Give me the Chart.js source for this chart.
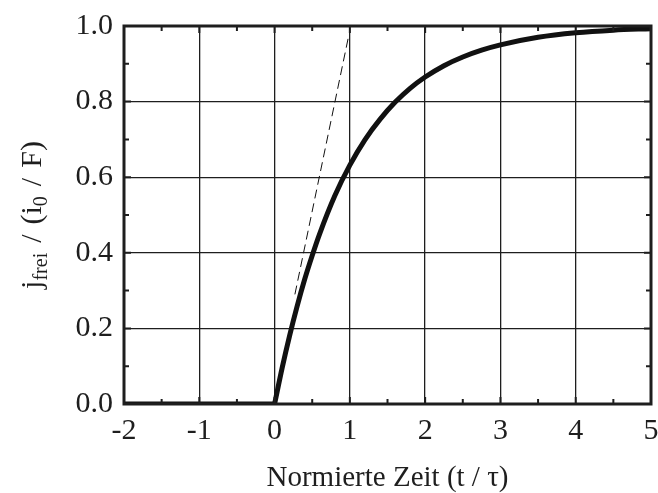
<!DOCTYPE html>
<html>
<head>
<meta charset="utf-8">
<script src="https://cdn.jsdelivr.net/npm/chart.js@4.4.1/dist/chart.umd.min.js"></script>
<style>
  html, body { margin: 0; padding: 0; background: #fff; }
  #c { display: block; }
</style>
</head>
<body>
<canvas id="c" width="658" height="493"></canvas>
<script>
// values
const flatT = [-2, -1, 0];
const flatJ = [0, 0, 0];
const riseT = [0, 0.1, 0.2, 0.3, 0.4, 0.5, 0.6, 0.8, 1.0, 1.2, 1.4, 1.6, 1.8, 2.0, 2.25, 2.5, 2.75, 3.0, 3.5, 4.0, 4.5, 5.0];
const riseJ = [0, 0.095, 0.181, 0.259, 0.33, 0.393, 0.451, 0.551, 0.632, 0.699, 0.753, 0.798, 0.835, 0.865, 0.895, 0.918, 0.936, 0.95, 0.97, 0.982, 0.989, 0.993];
const tangentT = [0.27, 0.98];
const tangentJ = [0.29, 0.97];
const xTicks = [-2, -1, 0, 1, 2, 3, 4, 5];
const yTicks = [0, 0.2, 0.4, 0.6, 0.8, 1.0];

const serif = "'Liberation Serif', 'Times New Roman', serif";
const ink = '#1e1e1e';

function pts(xs, ys) {
  return xs.map((x, i) => ({ x: x, y: ys[i] }));
}

// frame, inward ticks and the y title with subscripts
const framePlugin = {
  id: 'frame',
  afterDatasetsDraw(chart) {
    const ctx = chart.ctx;
    const a = chart.chartArea;
    const xs = chart.scales.x, ys = chart.scales.y;
    ctx.save();
    ctx.strokeStyle = ink;
    ctx.lineWidth = 2;
    for (let v = -2; v <= 5.001; v += 0.5) {
      const px = xs.getPixelForValue(v);
      const len = Math.abs(v - Math.round(v)) < 0.01 ? 7 : 5;
      ctx.beginPath();
      ctx.moveTo(px, a.bottom); ctx.lineTo(px, a.bottom - len);
      ctx.moveTo(px, a.top); ctx.lineTo(px, a.top + len);
      ctx.stroke();
    }
    for (let v = 0; v <= 1.0001; v += 0.1) {
      const py = ys.getPixelForValue(v);
      const len = Math.round(v * 10) % 2 === 0 ? 7 : 5;
      ctx.beginPath();
      ctx.moveTo(a.left, py); ctx.lineTo(a.left + len, py);
      ctx.moveTo(a.right, py); ctx.lineTo(a.right - len, py);
      ctx.stroke();
    }
    ctx.lineWidth = 3;
    ctx.strokeRect(a.left, a.top, a.right - a.left, a.bottom - a.top);
    ctx.restore();
  },
  afterDraw(chart) {
    const ctx = chart.ctx;
    const a = chart.chartArea;
    const main = '30px ' + serif, sub = '20px ' + serif;
    const gap = 10;
    const parts = [
      ['j', main, 0, 0], ['frei', sub, 6, gap], ['/', main, 0, gap],
      ['(i', main, 0, 0], ['0', sub, 6, gap], ['/', main, 0, gap], ['F)', main, 0, 0]
    ];
    ctx.save();
    ctx.fillStyle = ink;
    ctx.textBaseline = 'alphabetic';
    let total = 0;
    parts.forEach(p => { ctx.font = p[1]; total += ctx.measureText(p[0]).width + p[3]; });
    ctx.translate(41, (a.top + a.bottom) / 2);
    ctx.rotate(-Math.PI / 2);
    let x = -total / 2;
    parts.forEach(p => {
      ctx.font = p[1];
      ctx.fillText(p[0], x, p[2]);
      x += ctx.measureText(p[0]).width + p[3];
    });
    ctx.restore();
  }
};

new Chart(document.getElementById('c'), {
  type: 'line',
  data: {
    datasets: [
      {
        data: pts(flatT, flatJ),
        borderColor: '#111',
        borderWidth: 5,
        pointRadius: 0,
        tension: 0
      },
      {
        data: pts(riseT, riseJ),
        borderColor: '#111',
        borderWidth: 5,
        pointRadius: 0,
        cubicInterpolationMode: 'monotone'
      },
      {
        data: pts(tangentT, tangentJ),
        borderColor: '#111',
        borderWidth: 1,
        borderDash: [9, 5],
        pointRadius: 0
      }
    ]
  },
  options: {
    responsive: false,
    animation: false,
    devicePixelRatio: 1,
    layout: { padding: { left: 0, right: 7, top: 26, bottom: 0 } },
    plugins: { legend: { display: false }, tooltip: { enabled: false } },
    scales: {
      x: {
        type: 'linear',
        min: -2,
        max: 5,
        afterFit(s) { s.height = 89; s.paddingLeft = 0; s.paddingRight = 0; },
        afterBuildTicks(s) { s.ticks = xTicks.map(v => ({ value: v })); },
        ticks: { color: ink, font: { family: serif, size: 30 }, padding: 9, maxRotation: 0 },
        grid: { color: ink, lineWidth: 1.3, drawTicks: false },
        border: { display: false },
        title: {
          display: true,
          text: 'Normierte Zeit (t / τ)',
          color: ink,
          font: { family: serif, size: 29, lineHeight: 1 },
          padding: 0
        }
      },
      y: {
        type: 'linear',
        min: 0,
        max: 1,
        afterFit(s) { s.width = 124; s.paddingTop = 0; s.paddingBottom = 0; },
        afterBuildTicks(s) { s.ticks = yTicks.map(v => ({ value: v })); },
        ticks: {
          color: ink,
          font: { family: serif, size: 30 },
          padding: 11,
          callback: v => v.toFixed(1)
        },
        grid: { color: ink, lineWidth: 1.3, drawTicks: false },
        border: { display: false }
      }
    }
  },
  plugins: [framePlugin]
});
</script>
</body>
</html>
